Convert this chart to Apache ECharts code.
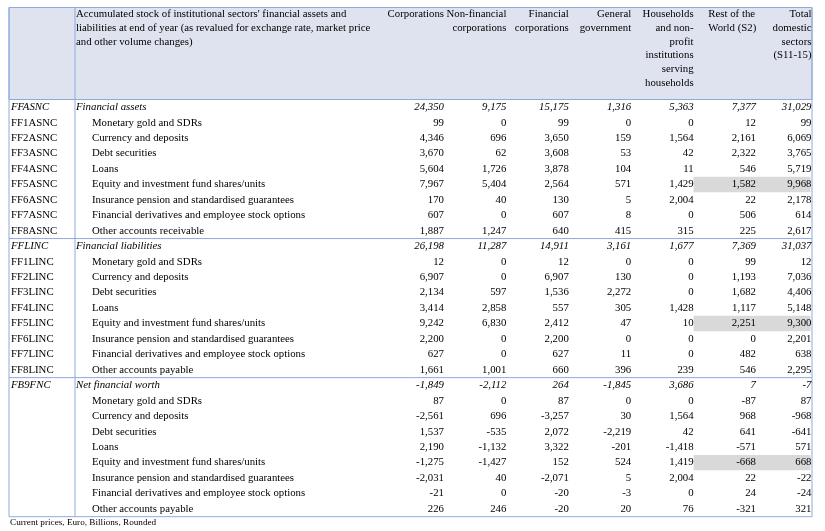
<!DOCTYPE html>
<html><head><meta charset="utf-8">
<script src="https://cdn.jsdelivr.net/npm/echarts@6/dist/echarts.min.js"></script>
<style>html,body{margin:0;padding:0;background:#fff}#c{width:825px;height:531px}</style>
</head><body><div id="c"></div>
<script>
// ---------------- DATA ----------------
const columns = ['Corporations', 'Non-financial\ncorporations', 'Financial\ncorporations', 'General\ngovernment',
  'Households\nand non-\nprofit\ninstitutions\nserving\nhouseholds', 'Rest of the\nWorld (S2)', 'Total\ndomestic\nsectors\n(S11-15)'];
const tableTitle = "Accumulated stock of institutional sectors' financial assets and\nliabilities at end of year (as revalued for exchange rate, market price\nand other volume changes)";
const rowCodes = ['FFASNC','FF1ASNC','FF2ASNC','FF3ASNC','FF4ASNC','FF5ASNC','FF6ASNC','FF7ASNC','FF8ASNC',
  'FFLINC','FF1LINC','FF2LINC','FF3LINC','FF4LINC','FF5LINC','FF6LINC','FF7LINC','FF8LINC',
  'FB9FNC','','','','','','','',''];
const rowLabels = ['Financial assets','Monetary gold and SDRs','Currency and deposits','Debt securities','Loans',
  'Equity and investment fund shares/units','Insurance pension and standardised guarantees','Financial derivatives and employee stock options','Other accounts receivable',
  'Financial liabilities','Monetary gold and SDRs','Currency and deposits','Debt securities','Loans',
  'Equity and investment fund shares/units','Insurance pension and standardised guarantees','Financial derivatives and employee stock options','Other accounts payable',
  'Net financial worth','Monetary gold and SDRs','Currency and deposits','Debt securities','Loans',
  'Equity and investment fund shares/units','Insurance pension and standardised guarantees','Financial derivatives and employee stock options','Other accounts payable'];
const summaryRows = [0, 9, 18];
const sectionBreaks = [0, 9, 18, 27];
const corporations  = [24350,99,4346,3670,5604,7967,170,607,1887, 26198,12,6907,2134,3414,9242,2200,627,1661, -1849,87,-2561,1537,2190,-1275,-2031,-21,226];
const nonFinancial  = [9175,0,696,62,1726,5404,40,0,1247, 11287,0,0,597,2858,6830,0,0,1001, -2112,0,696,-535,-1132,-1427,40,0,246];
const financial     = [15175,99,3650,3608,3878,2564,130,607,640, 14911,12,6907,1536,557,2412,2200,627,660, 264,87,-3257,2072,3322,152,-2071,-20,-20];
const generalGov    = [1316,0,159,53,104,571,5,8,415, 3161,0,130,2272,305,47,0,11,396, -1845,0,30,-2219,-201,524,5,-3,20];
const households    = [5363,0,1564,42,11,1429,2004,0,315, 1677,0,0,0,1428,10,0,0,239, 3686,0,1564,42,-1418,1419,2004,0,76];
const restOfWorld   = [7377,12,2161,2322,546,1582,22,506,225, 7369,99,1193,1682,1117,2251,0,482,546, 7,-87,968,641,-571,-668,22,24,-321];
const totalDomestic = [31029,99,6069,3765,5719,9968,2178,614,2617, 31037,12,7036,4406,5148,9300,2201,638,2295, -7,87,-968,-641,571,668,-22,-24,321];
const highlightRows = [5, 14, 23];
const highlightCols = [5, 6];
const footnote = 'Current prices, Euro, Billions, Rounded';

// ---------------- STYLE ----------------
const FONT_FAMILY = '"Liberation Serif", "Times New Roman", serif';
const FS = 10.8;
const BORDER = '#8eaadb';
const HEADER_BG = '#dee3ef';
const TABLE_LEFT = 9, TABLE_RIGHT = 812, TABLE_TOP = 7.5, DIVIDER_X = 75;
const CODE_X = 11, MAIN_X = 76, SUB_X = 92;

const valueColumns = [corporations, nonFinancial, financial, generalGov, households, restOfWorld, totalDomestic];
const rowIds = rowLabels.map((_, i) => String(i));
const fmt = v => v.toLocaleString('en-US');
const font = (italic, size) => (italic ? 'italic ' : '') + (size || FS) + 'px ' + FONT_FAMILY;

const numberData = [];
valueColumns.forEach((col, c) => col.forEach((v, r) => numberData.push([c, r, v])));
const labelData = rowIds.map((_, r) => [0, r]);
const headerData = columns.map((_, c) => [c, 0]);
const highlightData = [];
highlightRows.forEach(r => highlightCols.forEach(c => highlightData.push([c, r])));

const chart = echarts.init(document.getElementById('c'));
chart.setOption({
  animation: false,
  backgroundColor: '#fff',
  grid: { left: 381.6, top: 99.5, width: 436.8, height: 417.2 },
  xAxis: { type: 'category', data: columns, show: false },
  yAxis: { type: 'category', data: rowIds, inverse: true, show: false },
  graphic: [
    { type: 'rect', z: 0, shape: { x: TABLE_LEFT, y: TABLE_TOP, width: TABLE_RIGHT - TABLE_LEFT, height: 99.5 - TABLE_TOP }, style: { fill: HEADER_BG, stroke: BORDER, lineWidth: 1 } },
    { type: 'text', left: 10, top: 518, style: { text: footnote, font: font(false, 9.2), fill: '#000' } }
  ],
  series: [
    { // highlighted cells
      type: 'custom', silent: true, z: 1, data: highlightData, encode: { x: 0, y: 1 },
      renderItem: (params, api) => {
        const pt = api.coord([api.value(0), api.value(1)]);
        const sz = api.size([1, 1]);
        const x0 = pt[0] - sz[0] / 2;
        const x1 = Math.min(pt[0] + sz[0] / 2, TABLE_RIGHT - 1.5);
        return { type: 'rect', shape: { x: x0, y: pt[1] - sz[1] / 2, width: x1 - x0, height: sz[1] }, style: { fill: '#d9d9d9' } };
      }
    },
    { // frame lines
      type: 'custom', silent: true, z: 2, data: sectionBreaks.map(b => [0, b]), encode: { x: 0, y: 1 },
      renderItem: (params, api) => {
        const b = api.value(1);
        const sz = api.size([1, 1]);
        const pt = api.coord([0, Math.min(b, rowIds.length - 1)]);
        const y = b >= rowIds.length ? pt[1] + sz[1] / 2 : pt[1] - sz[1] / 2;
        const children = [{ type: 'line', shape: { x1: TABLE_LEFT, y1: y, x2: TABLE_RIGHT, y2: y }, style: { stroke: BORDER, lineWidth: 1 } }];
        if (b === 0) {
          const cs = params.coordSys;
          const yb = cs.y + cs.height;
          [TABLE_LEFT, DIVIDER_X, TABLE_RIGHT].forEach(x => children.push({ type: 'line', shape: { x1: x, y1: TABLE_TOP, x2: x, y2: yb }, style: { stroke: BORDER, lineWidth: 1 } }));
        }
        return { type: 'group', children };
      }
    },
    { // column headers
      type: 'custom', silent: true, z: 3, data: headerData, encode: { x: 0, y: 1 },
      renderItem: (params, api) => {
        const c = api.value(0);
        const pt = api.coord([c, 0]);
        const sz = api.size([1, 1]);
        const right = Math.min(pt[0] + sz[0] / 2, TABLE_RIGHT - 0.5);
        const left = c === 5;
        const children = [{ type: 'text', x: left ? pt[0] - sz[0] / 2 + 14.7 : right, y: TABLE_TOP + 0.2,
          style: { text: columns[c], font: font(false), fill: '#000', align: left ? 'left' : 'right', verticalAlign: 'top', lineHeight: 13.7 } }];
        if (c === 0) children.push({ type: 'text', x: MAIN_X, y: TABLE_TOP + 0.2,
          style: { text: tableTitle, font: font(false), fill: '#000', align: 'left', verticalAlign: 'top', lineHeight: 13.7 } });
        return { type: 'group', children };
      }
    },
    { // row codes and labels
      type: 'custom', silent: true, z: 3, data: labelData, encode: { x: 0, y: 1 },
      renderItem: (params, api) => {
        const r = api.value(1);
        const pt = api.coord([0, r]);
        const it = summaryRows.includes(r);
        return { type: 'group', children: [
          { type: 'text', x: CODE_X, y: pt[1], style: { text: rowCodes[r], font: font(it), fill: '#000', align: 'left', verticalAlign: 'middle' } },
          { type: 'text', x: it ? MAIN_X : SUB_X, y: pt[1], style: { text: rowLabels[r], font: font(it), fill: '#000', align: 'left', verticalAlign: 'middle' } }
        ] };
      }
    },
    { // values
      type: 'custom', silent: true, z: 3, data: numberData, encode: { x: 0, y: 1 },
      renderItem: (params, api) => {
        const c = api.value(0), r = api.value(1), v = api.value(2);
        const pt = api.coord([c, r]);
        const sz = api.size([1, 1]);
        const x = Math.min(pt[0] + sz[0] / 2, TABLE_RIGHT - 0.5);
        return { type: 'text', x: x, y: pt[1], style: { text: fmt(v), font: font(summaryRows.includes(r)), fill: '#000', align: 'right', verticalAlign: 'middle' } };
      }
    }
  ]
});
</script></body></html>
